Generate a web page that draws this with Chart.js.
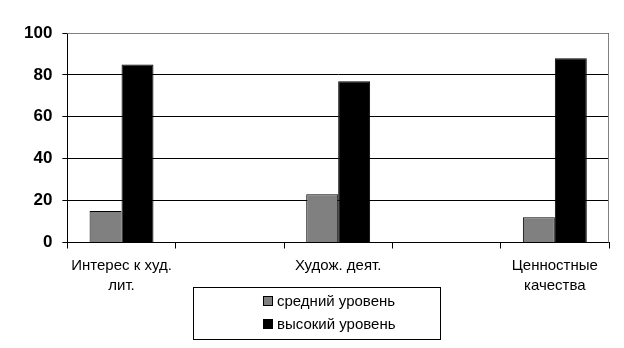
<!DOCTYPE html>
<html>
<head>
<meta charset="utf-8">
<script src="https://cdn.jsdelivr.net/npm/chart.js@4/dist/chart.umd.min.js"></script>
<style>
  html, body { margin: 0; padding: 0; background: #fff; }
  #wrap { width: 624px; height: 348px; position: relative; }
</style>
</head>
<body>
<div id="wrap"><canvas id="chart"></canvas></div>
<script>
const categories = [['Интерес к худ.', 'лит.'], '', 'Худож. деят.', '', ['Ценностные', 'качества']];
const seriesNames = ['средний уровень', 'высокий уровень'];
const middleLevel = [15, null, 23, null, 12];
const highLevel = [85, null, 77, null, 88];
const yTicks = [0, 20, 40, 60, 80, 100];

const FONT = '"Liberation Sans", Arial, sans-serif';

// legend in a framed box with two rows, like the original
const boxLegend = {
  id: 'boxLegend',
  afterDraw(chart) {
    const ctx = chart.ctx;
    const x0 = 193, y0 = 287, w = 247, h = 52;
    ctx.save();
    ctx.strokeStyle = '#000';
    ctx.lineWidth = 1;
    ctx.strokeRect(x0 + 0.5, y0 + 0.5, w, h);
    ctx.font = '15px ' + FONT;
    ctx.textBaseline = 'middle';
    chart.data.datasets.forEach((ds, i) => {
      const cy = y0 + 15 + i * 23;
      ctx.fillStyle = ds.backgroundColor;
      ctx.fillRect(263.5, cy - 5.5, 9, 9);
      ctx.strokeStyle = '#000';
      ctx.strokeRect(263.5, cy - 5.5, 9, 9);
      ctx.fillStyle = '#000';
      ctx.fillText(ds.label, 277, cy);
    });
    // gray frame at top and right of the plot area
    const a = chart.chartArea;
    ctx.strokeStyle = '#808080';
    ctx.beginPath();
    ctx.moveTo(a.left, a.top + 0.5);
    ctx.lineTo(a.right - 0.5, a.top + 0.5);
    ctx.lineTo(a.right - 0.5, a.bottom);
    ctx.stroke();
    ctx.restore();
  }
};

new Chart(document.getElementById('chart'), {
  type: 'bar',
  data: {
    labels: categories,
    datasets: [
      { label: seriesNames[0], data: middleLevel, backgroundColor: '#808080', borderColor: '#000', borderWidth: 1 },
      { label: seriesNames[1], data: highLevel, backgroundColor: '#000000', borderColor: '#000', borderWidth: 1 }
    ]
  },
  options: {
    responsive: true,
    maintainAspectRatio: false,
    animation: false,
    layout: { padding: { top: 33, right: 15, bottom: 45, left: 14 } },
    datasets: { bar: { barPercentage: 1, categoryPercentage: 0.59 } },
    plugins: {
      legend: { display: false },
      tooltip: { enabled: false }
    },
    scales: {
      x: {
        grid: { drawOnChartArea: false, color: '#000', tickLength: 6, offset: true },
        border: { color: '#000' },
        ticks: { color: '#000', font: { family: FONT, size: 15, lineHeight: 1.35 }, maxRotation: 0, autoSkip: false, padding: 7 }
      },
      y: {
        min: 0,
        max: 100,
        afterBuildTicks: axis => { axis.ticks = yTicks.map(v => ({ value: v })); },
        grid: { color: '#000', tickLength: 5 },
        border: { color: '#000' },
        ticks: { color: '#000', font: { family: FONT, size: 17, weight: 'bold' }, padding: 10 }
      }
    }
  },
  plugins: [boxLegend]
});
</script>
</body>
</html>
